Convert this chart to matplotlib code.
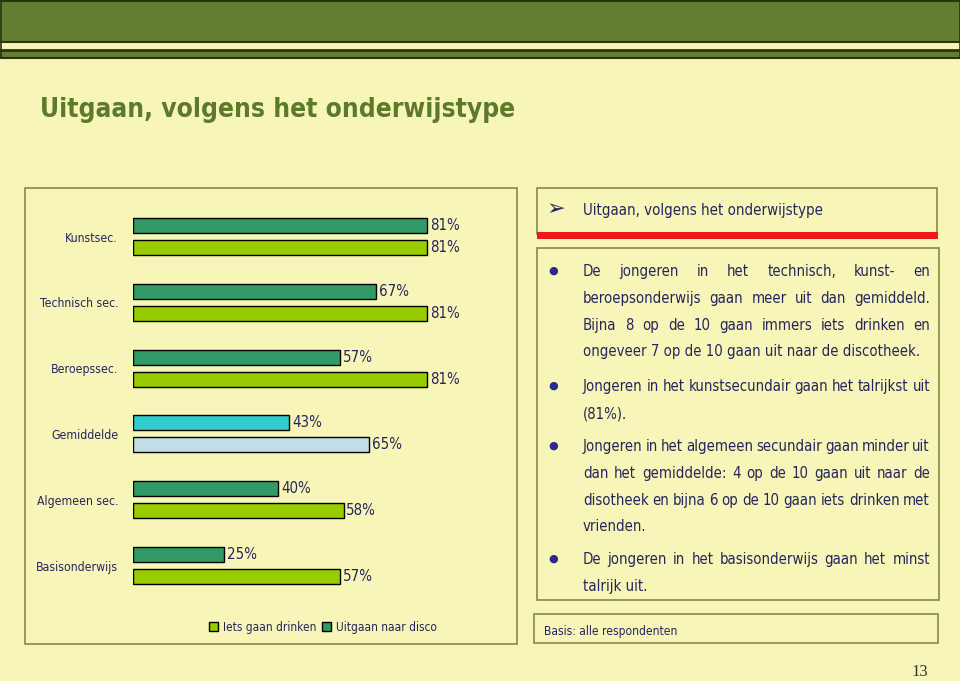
import os
import matplotlib
matplotlib.use("Agg")
import matplotlib.pyplot as plt
from matplotlib.patches import Rectangle, Patch
from matplotlib import font_manager as fm

# ---------------- data ----------------
categories = ["Kunstsec.", "Technisch sec.", "Beroepssec.", "Gemiddelde", "Algemeen sec.", "Basisonderwijs"]
disco = [81, 67, 57, 43, 40, 25]        # Uitgaan naar disco (top bar)
drinken = [81, 81, 81, 65, 58, 57]      # Iets gaan drinken (bottom bar)
series_names = ["Iets gaan drinken", "Uitgaan naar disco"]
title = "Uitgaan, volgens het onderwijstype"
header = "Uitgaan, volgens het onderwijstype"
paragraphs = [
    ["De jongeren in het technisch, kunst- en",
     "beroepsonderwijs gaan meer uit dan gemiddeld.",
     "Bijna 8 op de 10 gaan immers iets drinken en",
     "ongeveer 7 op de 10 gaan uit naar de discotheek."],
    ["Jongeren in het kunstsecundair gaan het talrijkst uit",
     "(81%)."],
    ["Jongeren in het algemeen secundair gaan minder uit",
     "dan het gemiddelde: 4 op de 10 gaan uit naar de",
     "disotheek en bijna 6 op de 10 gaan iets drinken met",
     "vrienden."],
    ["De jongeren in het basisonderwijs gaan het minst",
     "talrijk uit."],
]
basis = "Basis: alle respondenten"
page = "13"

# ---------------- fonts: look for an installed condensed / narrow face ----------------
def find_condensed(bold):
    prefs = ["liberation sans narrow", "dejavu sans condensed", "dejavu sans",
             "roboto condensed", "open sans condensed", "noto sans"]
    found = []
    for f in fm.fontManager.ttflist:
        base = os.path.basename(f.fname).lower()
        name = f.name.lower()
        key = name + " " + base
        narrow = ("narrow" in key or "condensed" in key or
                  str(f.stretch) in ("condensed", "semi-condensed", "extra-condensed"))
        if not narrow or "italic" in key or "oblique" in key:
            continue
        w = f.weight if isinstance(f.weight, int) else {"normal": 400, "regular": 400, "bold": 700}.get(str(f.weight), 400)
        if bold and w != 700:
            continue
        if not bold and w != 400:
            continue
        rank = next((i for i, p in enumerate(prefs) if name.startswith(p)), len(prefs))
        found.append((rank, f.fname))
    if found:
        found.sort()
        return fm.FontProperties(fname=found[0][1])
    return fm.FontProperties(family=["Liberation Sans", "DejaVu Sans"],
                             weight="bold" if bold else "normal")


FP = find_condensed(False)
FPB = find_condensed(True)

# ---------------- style ----------------
BG = "#F7F6B8"
GREEN_BAND = "#647E31"
DARK = "#2A3512"
BOX = "#8E944A"
TITLE_C = "#5C7A29"
NAVY = "#25255E"
BULLET = "#2B2B8E"
DISCO_C = "#339966"
DRINK_C = "#99CC00"
AVG_TOP = "#33CCCC"
AVG_BOT = "#C0DFE6"

W, H = 960, 681
fig = plt.figure(figsize=(W / 100, H / 100), dpi=100)
fig.patch.set_facecolor(BG)
bg = fig.add_axes([0, 0, 1, 1])
bg.set_xlim(0, W)
bg.set_ylim(H, 0)
bg.axis("off")
renderer = fig.canvas.get_renderer()


def fp(size, bold=False):
    p = (FPB if bold else FP).copy()
    p.set_size(size)
    return p


def fit_size(text, width, bold=False):
    t = bg.text(0, 0, text, fontproperties=fp(10, bold))
    w = t.get_window_extent(renderer).width
    t.remove()
    return 10 * width / w


# top band
bg.add_patch(Rectangle((0, 0), W, 42, facecolor=GREEN_BAND, edgecolor="none"))
bg.add_patch(Rectangle((0, 50), W, 8, facecolor=GREEN_BAND, edgecolor="none"))
for yy, lw in [(0.5, 1.5), (42, 1.5), (50, 2.0), (58, 1.5)]:
    bg.plot([0, W], [yy, yy], color=DARK, lw=lw)
bg.plot([0.5, 0.5], [0, 58], color=DARK, lw=1.2)
bg.plot([W - 0.5, W - 0.5], [0, 58], color=DARK, lw=1.2)

# title
bg.text(40, 110, title, fontproperties=fp(fit_size(title, 472, True), True),
        color=TITLE_C, va="center", ha="left")

# boxes
bg.add_patch(Rectangle((25, 188), 492, 456, facecolor="none", edgecolor=BOX, lw=1.3))
bg.add_patch(Rectangle((537, 188), 400, 46, facecolor="none", edgecolor=BOX, lw=1.3))
bg.add_patch(Rectangle((537, 232), 401, 7, facecolor="#EE1A1A", edgecolor="none"))
bg.add_patch(Rectangle((537, 248), 402, 352, facecolor="none", edgecolor=BOX, lw=1.3))
bg.add_patch(Rectangle((534, 614), 404, 29, facecolor="none", edgecolor=BOX, lw=1.3))

# header text
bg.text(547, 209, "\u27A2", fontsize=16, family=["DejaVu Sans"], color=NAVY, va="center")
bg.text(583, 210, header, fontproperties=fp(fit_size(header, 241)), color=NAVY, va="center")

# body text, justified (baseline-aligned words)
body_size = fit_size(paragraphs[0][3], 322) * 1.05
em_px = body_size * 100 / 72
base_off = 0.36 * em_px
x0, x1 = 583, 930
line_y = [[271, 298, 325, 351], [386, 413], [446, 473, 500, 526], [559, 586]]
for para, ys in zip(paragraphs, line_y):
    bg.text(553, ys[0], "\u25CF", fontsize=8, color=BULLET, va="center", ha="center",
            family=["DejaVu Sans"])
    for i, (line, y) in enumerate(zip(para, ys)):
        yb = y + base_off
        last = i == len(para) - 1
        if last:
            bg.text(x0, yb, line, fontproperties=fp(body_size), color=NAVY, va="baseline")
            continue
        words = line.split(" ")
        texts = [bg.text(0, yb, w_, fontproperties=fp(body_size), color=NAVY, va="baseline")
                 for w_ in words]
        widths = [t.get_window_extent(renderer).width for t in texts]
        gap = (x1 - x0 - sum(widths)) / (len(words) - 1)
        x = x0
        for t, w_ in zip(texts, widths):
            t.set_x(x)
            x += w_ + gap

bg.text(544, 631, basis, fontproperties=fp(fit_size(basis, 133)), color=NAVY, va="center")
bg.text(928, 672, page, fontsize=12, family=["Liberation Serif", "DejaVu Serif"],
        color="#333333", va="center", ha="right")

# ---------------- bar chart ----------------
ax_left, ax_right = 133, 133 + 363
ax_top, ax_bot = 203.6, 203.6 + 6 * 65.8
ax = fig.add_axes([ax_left / W, 1 - ax_bot / H, (ax_right - ax_left) / W, (ax_bot - ax_top) / H])
ax.set_facecolor("none")
ax.set_xlim(0, 100)
ax.set_ylim(len(categories) - 0.5, -0.5)
off = 11 / 65.8
bh = 15 / 65.8
pos = list(range(len(categories)))
top_colors = [AVG_TOP if c == "Gemiddelde" else DISCO_C for c in categories]
bot_colors = [AVG_BOT if c == "Gemiddelde" else DRINK_C for c in categories]
b1 = ax.barh([p - off for p in pos], disco, height=bh, color=top_colors, edgecolor="black", lw=1)
b2 = ax.barh([p + off for p in pos], drinken, height=bh, color=bot_colors, edgecolor="black", lw=1)
val_fp = fp(fit_size("81%", 30))
for bars in (b1, b2):
    ax.bar_label(bars, labels=[f"{v}%" for v in bars.datavalues], padding=2,
                 fontproperties=val_fp, color=NAVY)
ax.set_yticks(pos)
ax.set_yticklabels(categories, fontproperties=fp(fit_size("Basisonderwijs", 82)), color=NAVY)
ax.tick_params(axis="y", length=0, pad=15 * 0.72)
ax.set_xticks([])
for s in ax.spines.values():
    s.set_visible(False)

handles = [Patch(facecolor=DRINK_C, edgecolor="black", lw=1),
           Patch(facecolor=DISCO_C, edgecolor="black", lw=1)]
fig.legend(handles, series_names, loc="center", bbox_to_anchor=(323 / W, 1 - 627 / H),
           ncol=2, frameon=False, prop=fp(fit_size(series_names[0], 93)),
           handlelength=0.75, handleheight=0.75, handletextpad=0.4, columnspacing=0.5,
           labelcolor=NAVY)

fig.savefig("out.png", dpi=100, facecolor=BG)
